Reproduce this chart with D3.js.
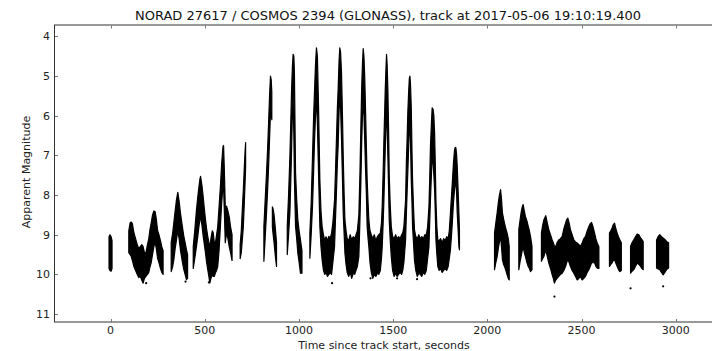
<!DOCTYPE html>
<html>
<head>
<meta charset="utf-8">
<script src="https://cdn.jsdelivr.net/npm/d3@7"></script>
<style>
  body { margin: 0; background: #fff; }
  svg { display: block; font-family: "DejaVu Sans", sans-serif; }
</style>
</head>
<body>
<svg id="chart" width="712" height="351"></svg>
<script>
// light curve: [time s, brightest mag, faintest mag] per column
const pass0 = [[-8, 9.05, 9.85], [-3, 9.0, 9.9], [3, 9.05, 9.92], [8, 9.15, 9.85]];
const pass1 = [
  [97, 8.9, 9.45], [104, 8.7, 9.5], [110, 8.68, 9.55], [116, 8.72, 9.65], [124, 8.95, 9.8],
  [133, 9.1, 9.9], [142, 9.25, 10.0], [150, 9.35, 10.08], [158, 9.3, 10.05], [166, 9.25, 10.15],
  [173, 9.3, 10.22], [180, 9.45, 10.1], [188, 9.45, 10.05], [196, 9.25, 10.0], [203, 9.1, 9.95],
  [210, 8.85, 9.8], [216, 8.7, 9.7], [223, 8.5, 9.5], [230, 8.4, 9.3], [237, 8.42, 9.2],
  [243, 8.6, 9.35], [250, 8.9, 9.6], [257, 9.0, 9.7], [265, 9.15, 9.85], [272, 9.3, 9.95], [279, 9.4, 10.0]
];
const pass2 = [
  [322, 9.2, 9.93], [330, 8.95, 9.8], [336, 8.7, 9.63], [343, 8.4, 9.35], [350, 8.12, 9.13],
  [357, 7.93, 8.9], [364, 8.15, 9.1], [371, 8.45, 9.38], [380, 8.75, 9.65], [389, 9.04, 9.88],
  [396, 9.2, 10.0], [403, 9.38, 10.13], [409, 9.5, 10.1]
];
const pass3 = [
  [439, 9.3, 9.85], [447, 8.9, 9.6], [456, 8.38, 9.3], [463, 8.05, 9.05], [469, 7.8, 8.8],
  [475, 7.58, 8.6], [478, 7.53, 8.55], [485, 7.75, 8.75], [492, 8.05, 9.04], [498, 8.35, 9.25],
  [504, 8.62, 9.46], [510, 8.85, 9.7], [516, 9.04, 9.88], [522, 9.2, 10.05], [527, 9.3, 10.22],
  [533, 9.1, 10.1], [540, 8.9, 10.0], [545, 8.95, 10.05], [551, 9.2, 10.05], [557, 9.2, 9.96],
  [563, 9.0, 9.9], [569, 8.8, 9.8], [576, 8.3, 9.4], [583, 7.8, 8.8], [590, 7.2, 8.2],
  [597, 6.77, 7.75], [600, 6.75, 7.8], [604, 7.35, 8.4], [609, 8.3, 9.2], [616, 8.28, 8.95],
  [623, 8.4, 9.1], [630, 8.55, 9.3], [637, 8.8, 9.45], [645, 9.0, 9.65]
];
const pass4 = [
  [688, 9.25, 9.6], [694, 8.9, 9.45], [700, 8.3, 9.1], [705, 7.86, 8.79], [710, 7.3, 8.2],
  [714, 6.9, 7.7], [717, 6.68, 7.3]
];
const pass5 = [
  [814, 8.79, 9.67], [821, 8.1, 9.05], [828, 7.44, 8.45], [834, 6.8, 7.85], [839, 6.18, 7.28],
  [844, 5.5, 6.6], [849, 5.0, 5.9], [853, 5.1, 6.0], [856, 5.4, 6.1]
];
const pass6 = [
  [859, 8.3, 8.8], [862, 8.33, 8.95], [868, 8.5, 9.2], [875, 8.85, 9.55], [881, 9.2, 9.8]
];
const pass7 = [
  [938, 8.79, 9.5], [945, 8.0, 9.0], [952, 7.02, 8.45], [957, 6.1, 7.6], [961, 5.34, 6.85],
  [965, 4.8, 6.0], [969, 4.45, 5.5], [973, 4.5, 6.5], [976, 4.92, 7.6], [982, 7.44, 8.79],
  [988, 8.1, 9.1], [994, 8.62, 9.46], [1001, 8.9, 9.7], [1008, 9.13, 9.97], [1016, 9.4, 9.97]
];
const pass8 = [
  [1058, 8.96, 9.59], [1065, 8.2, 9.0], [1072, 7.02, 8.28], [1078, 6.0, 7.4], [1083, 5.34, 6.6],
  [1088, 4.7, 6.0], [1093, 4.29, 5.59], [1098, 4.5, 6.2], [1104, 5.76, 7.44], [1111, 7.61, 8.79],
  [1117, 8.4, 9.3], [1123, 8.79, 9.63], [1130, 9.0, 9.9], [1137, 9.15, 10.0], [1144, 9.05, 9.95],
  [1151, 9.15, 10.05], [1159, 9.04, 10.0], [1166, 9.1, 9.95], [1173, 8.96, 10.0], [1180, 8.7, 9.7],
  [1189, 8.12, 9.3], [1194, 7.4, 8.6], [1199, 6.6, 7.95], [1204, 5.8, 7.2], [1208, 5.34, 6.77],
  [1213, 4.6, 5.9], [1217, 4.29, 5.5], [1221, 4.4, 5.8], [1226, 4.92, 6.6], [1231, 6.0, 7.6],
  [1235, 7.02, 8.45], [1240, 8.0, 9.0], [1244, 8.62, 9.46], [1250, 8.9, 9.75], [1256, 9.1, 9.95],
  [1264, 9.15, 10.05], [1272, 9.0, 9.95], [1280, 9.13, 10.1], [1288, 9.05, 9.97], [1296, 9.1, 10.0],
  [1303, 9.0, 9.9], [1310, 8.9, 9.8], [1318, 8.5, 9.55], [1324, 7.4, 8.6], [1329, 6.2, 7.6],
  [1333, 5.3, 6.7], [1337, 4.7, 6.0], [1341, 4.31, 5.6], [1345, 4.5, 6.0], [1349, 5.0, 6.6],
  [1353, 5.76, 7.27], [1358, 6.8, 8.0], [1362, 7.61, 8.79], [1367, 8.2, 9.1], [1371, 8.62, 9.3],
  [1377, 8.9, 9.7], [1384, 9.0, 9.95], [1392, 9.1, 10.1], [1400, 9.0, 10.0], [1408, 9.15, 10.05],
  [1416, 9.05, 9.97], [1424, 9.0, 10.0], [1432, 8.96, 9.9], [1438, 8.7, 9.6], [1442, 8.28, 9.3],
  [1447, 7.4, 8.7], [1451, 6.6, 8.12], [1455, 5.9, 7.4], [1458, 5.34, 6.85], [1462, 4.8, 6.2],
  [1465, 4.45, 5.76], [1468, 4.7, 6.3], [1472, 5.34, 7.02], [1476, 6.4, 7.9], [1479, 7.44, 8.62],
  [1484, 8.2, 9.1], [1490, 8.79, 9.55], [1497, 9.04, 9.9], [1505, 9.1, 10.05], [1513, 9.0, 9.97],
  [1521, 9.1, 10.05], [1529, 9.05, 10.0], [1537, 9.1, 9.95], [1545, 9.0, 10.0], [1551, 8.95, 9.9],
  [1557, 8.8, 9.7], [1566, 8.12, 9.13], [1570, 7.2, 8.5], [1574, 6.6, 7.95], [1578, 5.9, 7.4],
  [1582, 5.42, 6.85], [1586, 5.05, 6.3], [1589, 5.0, 6.18], [1592, 5.2, 6.6], [1596, 5.76, 7.61],
  [1600, 6.9, 8.2], [1603, 7.61, 8.79], [1608, 8.3, 9.2], [1613, 8.87, 9.63], [1620, 9.04, 9.9],
  [1628, 9.1, 10.05], [1636, 9.0, 9.97], [1644, 9.1, 10.0], [1652, 9.05, 10.05], [1660, 9.1, 9.95],
  [1668, 9.0, 10.0], [1676, 9.0, 9.9], [1683, 8.8, 9.6], [1690, 8.28, 9.3], [1694, 7.6, 8.7],
  [1698, 6.77, 8.12], [1703, 6.2, 7.5], [1707, 5.8, 7.02], [1712, 5.84, 7.2], [1716, 6.0, 7.5],
  [1720, 6.43, 7.86], [1724, 7.3, 8.5], [1727, 8.12, 9.13], [1732, 8.8, 9.5], [1737, 9.13, 9.8],
  [1744, 9.15, 9.9], [1752, 9.1, 9.85], [1760, 9.2, 9.95], [1768, 9.1, 9.9], [1776, 9.15, 9.85],
  [1784, 9.05, 9.9], [1792, 9.1, 9.8], [1798, 8.9, 9.6], [1804, 8.45, 9.38], [1810, 8.0, 9.0],
  [1815, 7.61, 8.62], [1820, 7.2, 8.2], [1826, 6.85, 7.86], [1830, 6.8, 7.7], [1833, 6.81, 7.61],
  [1837, 7.0, 8.0], [1840, 7.27, 8.45], [1845, 7.9, 8.9], [1849, 8.45, 9.3], [1852, 8.9, 9.38]
];
const pass9 = [
  [2038, 8.96, 9.88], [2045, 8.7, 9.7], [2052, 8.45, 9.55], [2058, 8.2, 9.35], [2063, 8.03, 9.21],
  [2070, 7.86, 9.04], [2075, 8.1, 9.3], [2080, 8.45, 9.63], [2086, 8.6, 9.75], [2091, 8.71, 9.8],
  [2098, 8.85, 9.9], [2105, 8.96, 10.01], [2111, 9.1, 10.1], [2116, 9.29, 10.14]
];
const pass10 = [
  [2167, 8.87, 9.88], [2173, 8.65, 9.7], [2179, 8.45, 9.55], [2185, 8.3, 9.4], [2190, 8.24, 9.29],
  [2196, 8.4, 9.45], [2202, 8.54, 9.55], [2210, 8.65, 9.7], [2217, 8.79, 9.8], [2223, 8.9, 9.85],
  [2229, 9.04, 9.93], [2237, 9.29, 9.88]
];
const pass11 = [
  [2287, 8.96, 9.67], [2294, 8.75, 9.6], [2300, 8.62, 9.55], [2310, 8.52, 9.38], [2318, 8.7, 9.55],
  [2326, 8.87, 9.71], [2335, 9.0, 9.85], [2344, 9.13, 10.01], [2350, 9.2, 10.1], [2356, 9.29, 10.22],
  [2362, 9.3, 10.15], [2370, 9.2, 10.1], [2379, 9.13, 10.05], [2388, 9.1, 10.0], [2397, 9.04, 9.97],
  [2406, 8.85, 9.9], [2415, 8.71, 9.8], [2421, 8.62, 9.7], [2427, 8.58, 9.63], [2434, 8.7, 9.7],
  [2441, 8.87, 9.8], [2450, 9.0, 9.9], [2459, 9.13, 9.97], [2468, 9.18, 10.05], [2477, 9.21, 10.14],
  [2486, 9.25, 10.1], [2494, 9.29, 10.05], [2503, 9.21, 10.14], [2512, 9.1, 10.1], [2521, 9.04, 10.05],
  [2530, 8.9, 9.95], [2539, 8.79, 9.88], [2546, 8.72, 9.8], [2553, 8.69, 9.71], [2561, 8.8, 9.7],
  [2569, 8.96, 9.71], [2576, 9.1, 9.8], [2583, 9.21, 9.84], [2592, 9.3, 9.85]
];
const pass12 = [
  [2648, 8.96, 9.8], [2655, 8.9, 9.75], [2662, 8.83, 9.71], [2668, 8.75, 9.65], [2675, 8.71, 9.63],
  [2682, 8.85, 9.72], [2689, 8.96, 9.8], [2696, 9.05, 9.88], [2703, 9.13, 9.93], [2711, 9.2, 9.9]
];
const pass13 = [
  [2760, 9.29, 9.97], [2768, 9.2, 9.92], [2777, 9.13, 9.88], [2786, 9.05, 9.8], [2795, 8.98, 9.71],
  [2804, 9.0, 9.75], [2813, 9.08, 9.8], [2820, 9.12, 9.85], [2827, 9.17, 9.88]
];
const pass14 = [
  [2898, 9.13, 9.84], [2906, 9.05, 9.86], [2915, 9.0, 9.88], [2924, 9.05, 9.95], [2933, 9.08, 10.01],
  [2942, 9.12, 9.95], [2951, 9.17, 9.88], [2962, 9.2, 9.84]
];
const passes = [pass0, pass1, pass2, pass3, pass4, pass5, pass6, pass7, pass8,
                pass9, pass10, pass11, pass12, pass13, pass14];

// stray points outside the bands
const strayT = [189, 398, 522, 1176, 1380, 1521, 1627, 2356, 2760, 2933];
const strayMag = [10.22, 10.18, 10.2, 10.22, 10.1, 10.1, 10.12, 10.56, 10.35, 10.3];

const xTicks = [0, 500, 1000, 1500, 2000, 2500, 3000];
const yTicks = [4, 5, 6, 7, 8, 9, 10, 11];

const svg = d3.select("#chart");
// right spine lies just past the edge of the picture
const plotL = 54, plotT = 24.5, plotR = 732.3, plotB = 322;

const x = d3.scaleLinear().domain([-300, 3300]).range([plotL, plotR]);
const y = d3.scaleLinear().domain([3.7, 11.2]).range([plotT, plotB]);

const area = d3.area()
  .x(d => x(d[0]))
  .y0(d => y(d[2]))
  .y1(d => y(d[1]));

const plot = svg.append("g");
plot.selectAll("path.band")
  .data(passes)
  .join("path")
  .attr("class", "band")
  .attr("d", area)
  .attr("fill", "#000")
  .attr("stroke", "#000")
  .attr("stroke-width", 1.2)
  .attr("stroke-linejoin", "round");

plot.selectAll("circle.stray")
  .data(strayT)
  .join("circle")
  .attr("class", "stray")
  .attr("cx", d => x(d))
  .attr("cy", (d, i) => y(strayMag[i]))
  .attr("r", 1.1)
  .attr("fill", "#000");

// frame
svg.append("rect")
  .attr("x", plotL + 0.5).attr("y", plotT + 0.5)
  .attr("width", plotR - plotL).attr("height", plotB - plotT - 0.5)
  .attr("fill", "none").attr("stroke", "#333").attr("stroke-width", 1);

// ticks inside, top/bottom and left
const tickLen = 3;
const tk = svg.append("g").attr("stroke", "#777").attr("stroke-width", 1);
xTicks.forEach(v => {
  const px = Math.round(x(v)) + 0.5;
  tk.append("line").attr("x1", px).attr("x2", px).attr("y1", plotB).attr("y2", plotB - tickLen);
  tk.append("line").attr("x1", px).attr("x2", px).attr("y1", plotT + 1).attr("y2", plotT + 1 + tickLen);
});
yTicks.forEach(v => {
  const py = Math.round(y(v)) + 0.5;
  tk.append("line").attr("x1", plotL + 1).attr("x2", plotL + 1 + tickLen).attr("y1", py).attr("y2", py);
});

svg.append("g").selectAll("text")
  .data(xTicks)
  .join("text")
  .attr("x", d => x(d))
  .attr("y", 334)
  .attr("text-anchor", "middle")
  .attr("font-size", 11)
  .attr("fill", "#222")
  .text(d => d);

svg.append("g").selectAll("text")
  .data(yTicks)
  .join("text")
  .attr("x", 50)
  .attr("y", d => y(d) + 4)
  .attr("text-anchor", "end")
  .attr("font-size", 11)
  .attr("fill", "#222")
  .text(d => d);

svg.append("text")
  .attr("x", 388).attr("y", 20)
  .attr("text-anchor", "middle")
  .attr("font-size", 13)
  .attr("fill", "#111")
  .text("NORAD 27617 / COSMOS 2394 (GLONASS), track at 2017-05-06 19:10:19.400");

svg.append("text")
  .attr("x", 384).attr("y", 349)
  .attr("text-anchor", "middle")
  .attr("font-size", 11)
  .attr("fill", "#222")
  .text("Time since track start, seconds");

svg.append("text")
  .attr("transform", "translate(30,172) rotate(-90)")
  .attr("text-anchor", "middle")
  .attr("font-size", 11)
  .attr("fill", "#222")
  .text("Apparent Magnitude");
</script>
</body>
</html>
